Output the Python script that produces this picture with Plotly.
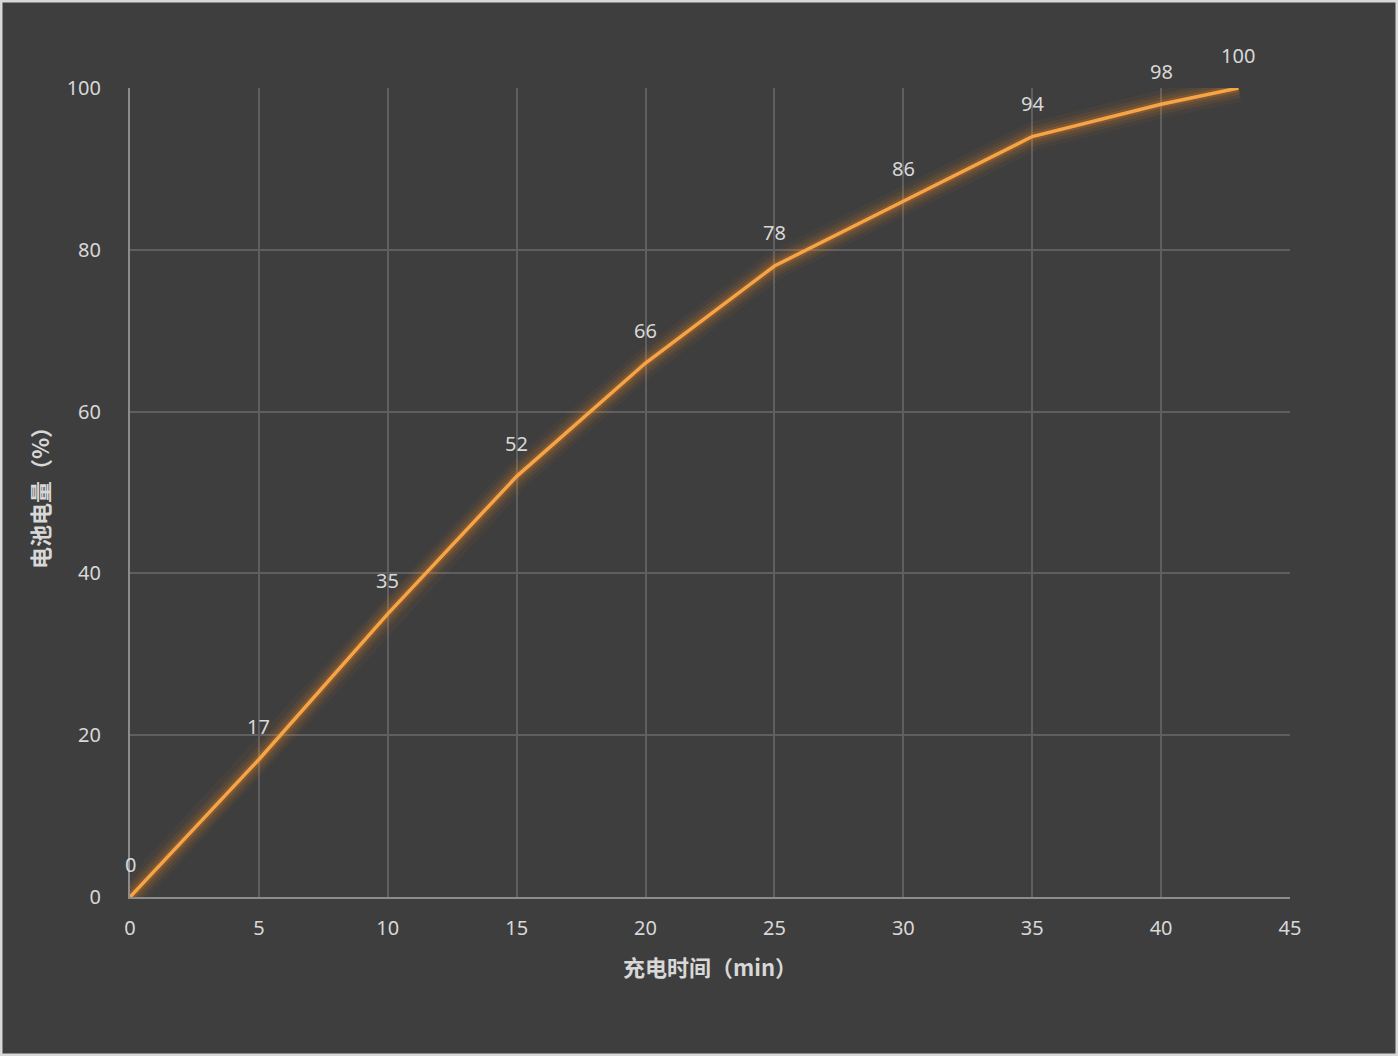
import plotly.graph_objects as go

minutes = [0, 5, 10, 15, 20, 25, 30, 35, 40, 43]
charge = [0, 17, 35, 52, 66, 78, 86, 94, 98, 100]
x_ticks = [0, 5, 10, 15, 20, 25, 30, 35, 40, 45]
y_ticks = [0, 20, 40, 60, 80, 100]

W, H = 1398, 1056
L, R, T, B = 130, 108, 88, 159
pw, ph = W - L - R, H - T - B

bg = "#3e3e3e"
txt = "#d8d8d8"
fnt = "Noto Sans, Noto Sans CJK SC"
fig = go.Figure()

# glow layers
for w, a in [(28, 0.05), (20, 0.08), (14, 0.11), (8, 0.2)]:
    fig.add_trace(go.Scatter(x=minutes, y=charge, mode="lines",
                             line=dict(color=f"rgba(240,135,35,{a})", width=w),
                             hoverinfo="skip", showlegend=False, cliponaxis=False))

fig.add_trace(go.Scatter(
    x=minutes, y=charge, mode="lines",
    line=dict(color="#f7a446", width=3.5),
    showlegend=False, cliponaxis=False))

annotations = [dict(x=xv, y=yv, xref="x", yref="y", text=str(yv), showarrow=False,
                    yshift=33, font=dict(size=20, color=txt, family=fnt))
               for xv, yv in zip(minutes, charge)]

fig.update_layout(
    width=W, height=H,
    margin=dict(l=L, r=R, t=T, b=B),
    paper_bgcolor=bg, plot_bgcolor=bg,
    font=dict(family=fnt, size=20, color=txt),
    annotations=annotations,
    xaxis=dict(range=[0, 45], tickvals=x_ticks, showgrid=True, gridcolor="#5f5f5f", gridwidth=1.5,
               zeroline=False, showline=True, linecolor="#8c8c8c", linewidth=2,
               ticks="", ticklabelstandoff=12,
               title=dict(text="<b>充电时间（min）</b>", font=dict(size=22, color=txt,
                          family="Noto Sans CJK SC"), standoff=21)),
    yaxis=dict(range=[0, 100], tickvals=y_ticks, showgrid=True, gridcolor="#5f5f5f", gridwidth=1.5,
               zeroline=False, showline=True, linecolor="#8c8c8c", linewidth=2,
               ticks="", ticklabelstandoff=23,
               title=dict(text="<b>电池电量（%）</b>", font=dict(size=22, color=txt,
                          family="Noto Sans CJK SC"), standoff=11)),
    shapes=[dict(type="rect", xref="paper", yref="paper",
                 x0=-L / pw, x1=1 + R / pw, y0=-B / ph, y1=1 + T / ph,
                 line=dict(color="#d8d8d8", width=5), fillcolor="rgba(0,0,0,0)", layer="above")],
)

fig.write_html("out.html", config={"displayModeBar": False},
               post_script="document.body.style.margin='0';document.body.style.overflow='hidden';")
